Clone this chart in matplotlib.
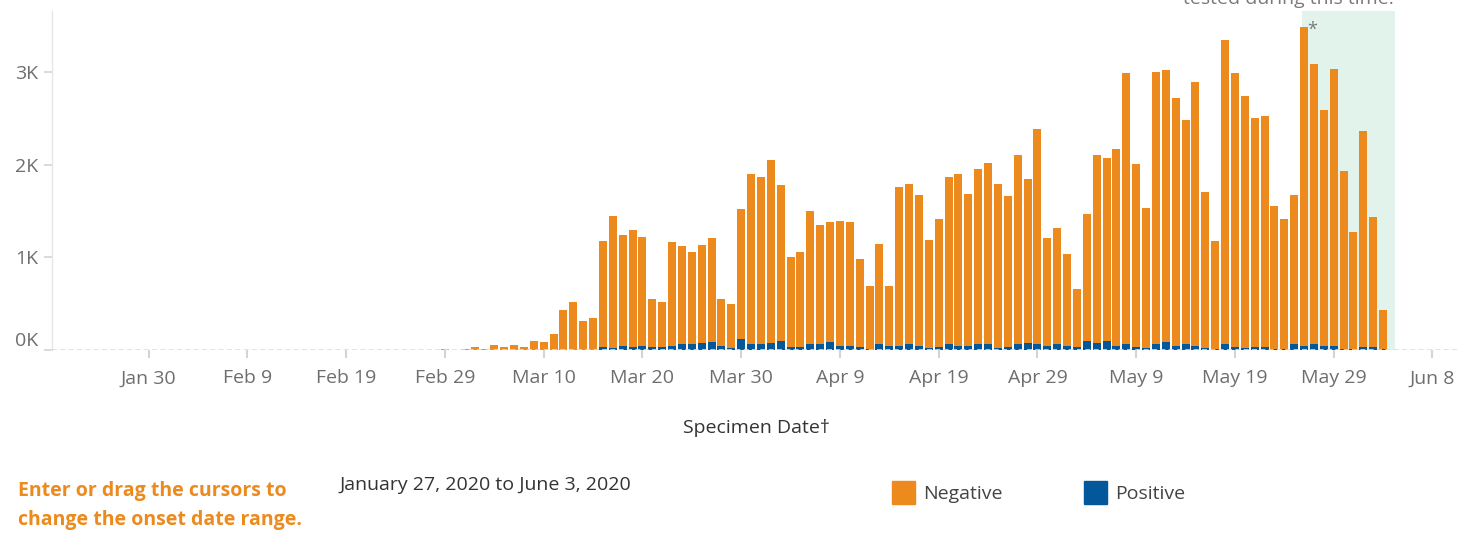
import numpy as np
import pandas as pd
import matplotlib
matplotlib.use("Agg")
import matplotlib.pyplot as plt

# Daily specimen counts, January 27 to June 3 2020
start_date = "2020-01-27"
end_date = "2020-06-03"

# totals (negative + positive) per day; Jan 27 - Feb 28 are all zero
total_tested = [
    0, 0, 0, 0, 0, 0, 0, 0, 0, 0, 0,
    0, 0, 0, 0, 0, 0, 0, 0, 0, 0, 0,
    0, 0, 0, 0, 0, 0, 0, 0, 0, 0, 0,
    # Feb 29
    10,
    # March
    0, 10, 32, 11, 54, 32, 54, 32, 97, 86,
    173, 432, 518, 313, 346, 1177, 1447, 1242, 1296, 1220,
    551, 518, 1166, 1123, 1058, 1134, 1210, 551, 497, 1521, 1899,
    # April
    1866, 2050, 1780, 1003, 1057, 1500, 1349, 1381, 1392, 1381,
    982, 690, 1144, 690, 1758, 1791, 1672, 1187, 1413, 1866,
    1899, 1683, 1953, 2017, 1791, 1661, 2104, 1845, 2384, 1208,
    # May
    1316, 1036, 658, 1467, 2104, 2071, 2168, 2988, 2007, 1532,
    2999, 3021, 2719, 2481, 2891, 1704, 1176, 3344, 2988, 2740,
    2503, 2524, 1553, 1413, 1672, 3485, 3085, 2589, 3031, 1931, 1273,
    # June
    2363, 1435, 432,
]

positive = [
    0, 0, 0, 0, 0, 0, 0, 0, 0, 0, 0,
    0, 0, 0, 0, 0, 0, 0, 0, 0, 0, 0,
    0, 0, 0, 0, 0, 0, 0, 0, 0, 0, 0,
    # Feb 29
    0,
    # March
    0, 0, 0, 0, 0, 0, 0, 0, 0, 0,
    0, 3, 3, 3, 3, 32, 22, 43, 32, 43,
    32, 32, 43, 65, 65, 76, 86, 43, 22, 119, 65,
    # April
    65, 76, 97, 32, 32, 65, 65, 86, 43, 43,
    32, 10, 65, 43, 43, 65, 43, 22, 32, 65,
    43, 43, 65, 65, 22, 32, 65, 76, 65, 43,
    # May
    65, 43, 32, 97, 76, 97, 43, 65, 32, 22,
    65, 86, 43, 65, 43, 22, 11, 65, 32, 22,
    32, 32, 11, 11, 65, 43, 65, 43, 43, 11, 11,
    # June
    32, 32, 11,
]

tick_dates = ["2020-01-30", "2020-02-09", "2020-02-19", "2020-02-29", "2020-03-10",
              "2020-03-20", "2020-03-30", "2020-04-09", "2020-04-19", "2020-04-29",
              "2020-05-09", "2020-05-19", "2020-05-29", "2020-06-08"]
tick_labels = ["Jan 30", "Feb 9", "Feb 19", "Feb 29", "Mar 10", "Mar 20", "Mar 30",
               "Apr 9", "Apr 19", "Apr 29", "May 9", "May 19", "May 29", "Jun 8"]

y_ticks = [0, 1000, 2000, 3000]
y_labels = ["0K", "1K", "2K", "3K"]

# shaded window: results still coming in
shade_start = "2020-05-26"
shade_end = "2020-06-03"

orange = "#EC8A1E"
blue = "#03579B"
grey = "#7a7a7a"

plt.rcParams["font.family"] = ["Open Sans", "DejaVu Sans"]
fs = 14

dates = pd.date_range(start_date, end_date, freq="D")
total_tested = np.array(total_tested)
positive = np.array(positive)
negative = total_tested - positive

W, H = 1461, 533
fig = plt.figure(figsize=(W / 100, H / 100), dpi=100)
ax = fig.add_axes([52 / W, 1 - 350 / H, (1460 - 52) / W, (350 - 11) / H])

# green band behind the last days
ax.axvspan(pd.Timestamp(shade_start) - pd.Timedelta(hours=4),
           pd.Timestamp(shade_end) + pd.Timedelta(hours=29),
           color="#E2F3EB", zorder=0, lw=0)

ax.bar(dates, positive, width=0.81, color=blue, zorder=2, lw=0)
ax.bar(dates, negative, bottom=positive, width=0.81, color=orange, zorder=2, lw=0)

# asterisk next to the first shaded bar
ax.text(pd.Timestamp(shade_start) + pd.Timedelta(hours=19), 3450, "*",
        color=grey, fontsize=13, ha="center", va="center", zorder=4)

ax.axhline(0, color="#dddddd", lw=1.2, ls=(0, (3, 2)), zorder=3)

ax.set_xlim(pd.Timestamp("2020-01-20 05:00"), pd.Timestamp("2020-06-10 19:00"))
ax.set_ylim(0, 3657)

ax.set_xticks(pd.to_datetime(tick_dates))
ax.set_xticklabels(tick_labels)
ax.set_yticks(y_ticks)
ax.set_yticklabels(y_labels)

ax.tick_params(axis="x", length=6, width=1.5, color="#d4d4d4", labelcolor="#6e6e6e",
               labelsize=fs, pad=8)
ax.tick_params(axis="y", length=6, width=1.2, color="#d4d4d4", labelcolor="#6e6e6e",
               labelsize=fs, pad=4)
# the 0K label sits just above its tick
ax.get_yticklabels()[0].set_verticalalignment("bottom")

for side in ["top", "right", "bottom"]:
    ax.spines[side].set_visible(False)
ax.spines["left"].set_color("#e6e6e6")
ax.spines["left"].set_linewidth(1)

fig.text(756 / W, 1 - 428 / H, "Specimen Date\u2020", ha="center", va="center",
         fontsize=fs, color="#333333")

# note partly cut off at the top
fig.text(1288 / W, 1 - 4 / H, "tested during this time.", ha="center", va="baseline",
         fontsize=fs, color=grey)

fig.text(18 / W, 1 - 491 / H, "Enter or drag the cursors to", ha="left", va="center",
         fontsize=fs, color=orange, fontweight="bold")
fig.text(18 / W, 1 - 520 / H, "change the onset date range.", ha="left", va="center",
         fontsize=fs, color=orange, fontweight="bold")

fig.text(340 / W, 1 - 485 / H, "January 27, 2020 to June 3, 2020", ha="left", va="center",
         fontsize=fs, color="#333333")

# legend
legend_items = [("Negative", orange, 892), ("Positive", blue, 1084)]
for name, col, px in legend_items:
    fig.patches.append(plt.Rectangle((px / W, 1 - 504 / H), 23 / W, 23 / H,
                                     transform=fig.transFigure, color=col))
    fig.text((px + 31) / W, 1 - 494 / H, name, ha="left", va="center",
             fontsize=fs, color="#444444")

fig.savefig("out.png", dpi=100)
